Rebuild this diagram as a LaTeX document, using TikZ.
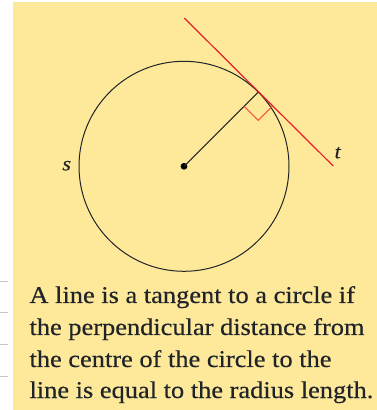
\documentclass[tikz,border=0pt]{standalone}
\usepackage{fontspec}
\setmainfont{Liberation Serif}[FakeStretch=1.1,FakeBold=0.4]
\usepackage{tikz}
\usetikzlibrary{calc}
\definecolor{paper}{RGB}{254,233,155}
\definecolor{tanred}{RGB}{232,32,38}
\definecolor{markred}{RGB}{238,84,60}
\definecolor{ink}{RGB}{32,36,40}
\tikzset{
  caption/.style={anchor=base west,inner sep=0pt,text=ink,font=\fontsize{24}{32}\selectfont},
  letter/.style={inner sep=0pt,text=ink,font=\itshape\fontsize{20}{20}\selectfont},
  leftrule/.style={gray!45,thin}
}

\begin{document}
\begin{tikzpicture}[x=1pt,y=1pt]
\useasboundingbox (0,0) rectangle (377,410);
\fill[paper] (13.3,0) rectangle (377,407.5);
% stray rules at the left edge
\draw[leftrule] (0,129) -- (8,129);
\draw[leftrule] (0,97.7) -- (8,97.7);
\draw[leftrule] (0,66) -- (8,66);
\draw[leftrule] (0,33.3) -- (8,33.3);
% circle, radius and tangent
\coordinate (O) at (184,243.7);
\coordinate (T) at ($(O)+(45:105)$);
\draw[ink,line width=1pt] (O) circle (105);
\fill[black] (O) circle (3.4);
\draw[ink,line width=1.1pt] (O) -- (T);
\coordinate (tA) at ($(T)+(-74,74)$);
\coordinate (tB) at ($(T)+(75,-74)$);
\draw[tanred,line width=1.2pt] (tA) -- (tB);
\draw[markred,line width=1pt] ($(T)+(225:20)$) -- ($(T)+(270:28.28)$) -- ($(T)+(315:20)$);
\node[letter] (s) at (66.7,244.3) {s};
\node[letter] (t) at (337.7,257.3) {t};
% caption
\node[caption] (l1) at (29.3,107) {A line is a tangent to a circle if};
\node[caption] (l2) at (29.3,75) {the perpendicular distance from};
\node[caption] (l3) at (29.3,43) {the centre of the circle to the};
\node[caption] (l4) at (29.3,12) {line is equal to the radius length.};
\end{tikzpicture}
\end{document}
